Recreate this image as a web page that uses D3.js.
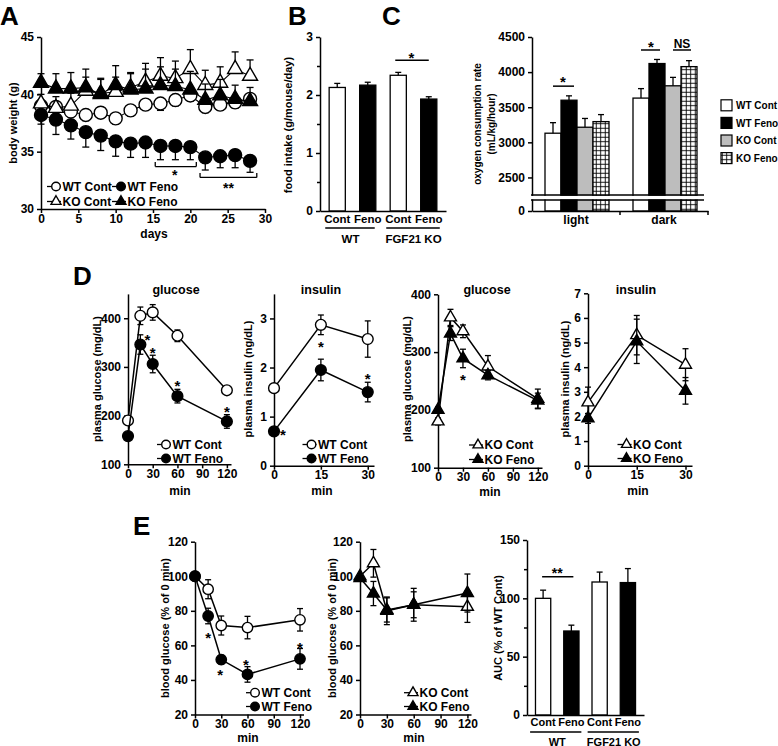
<!DOCTYPE html>
<html>
<head>
<meta charset="utf-8">
<script src="https://cdn.jsdelivr.net/npm/d3@7"></script>
<style>
  body { margin: 0; background: #fff; }
</style>
</head>
<body>
<svg id="fig" width="778" height="746"></svg>
<script>
// ---- A: body weight (g) ----
const daysA = [0, 2, 4, 6, 8, 10, 12, 14, 16, 18, 20, 22, 24, 26, 28];
const wtContA = [39.0, 38.9, 38.5, 38.2, 38.4, 37.9, 38.6, 39.1, 39.2, 39.5, 39.9, 38.9, 39.1, 39.3, 39.6];
const wtContAErr = [0.4, 0.5, 0.5, 0.5, 0.5, 0.5, 0.5, 0.5, 0.6, 0.5, 0.5, 0.5, 0.5, 0.5, 0.5];
const wtFenoA = [38.2, 37.8, 37.3, 36.7, 36.4, 35.9, 35.7, 35.8, 35.5, 35.5, 35.4, 34.5, 34.6, 34.7, 34.2];
const wtFenoAErr = [0.8, 1.3, 1.2, 1.3, 1.3, 1.3, 1.2, 1.3, 1.2, 1.2, 1.1, 1.1, 1.0, 1.1, 1.0];
const koContA = [39.2, 38.8, 39.0, 40.3, 40.1, 40.2, 40.6, 41.1, 41.6, 41.4, 42.2, 40.8, 41.0, 42.2, 41.6];
const koContAErr = [0.8, 1.0, 1.1, 1.2, 1.2, 1.3, 1.2, 1.6, 1.6, 1.5, 1.7, 1.3, 1.4, 1.5, 1.4];
const koFenoA = [41.0, 40.5, 40.5, 40.6, 40.0, 40.8, 40.4, 40.5, 40.8, 40.7, 40.4, 39.5, 39.9, 39.6, 39.4];
const koFenoAErr = [0.8, 1.3, 1.4, 1.6, 1.4, 1.7, 1.5, 1.7, 1.6, 1.5, 1.6, 1.4, 1.4, 1.2, 1.2];

// ---- B: food intake ----
const intakeLabels = ["Cont", "Feno", "Cont", "Feno"];
const intakeVals = [2.13, 2.17, 2.34, 1.93];
const intakeErr = [0.07, 0.05, 0.05, 0.04];

// ---- C: oxygen consumption ----
const o2Periods = ["light", "dark"];
const o2Groups = ["WT Cont", "WT Feno", "KO Cont", "KO Feno"];
const o2Light = [3130, 3600, 3215, 3295];
const o2LightErr = [150, 62, 125, 100];
const o2Dark = [3630, 4122, 3805, 4078];
const o2DarkErr = [135, 58, 120, 85];

// ---- D: GTT plasma glucose / insulin ----
const minGlu = [0, 15, 30, 60, 120];
const wtContGlu = [190, 405, 412, 364, 252];
const wtContGluErr = [8, 18, 16, 12, 5];
const wtFenoGlu = [158, 346, 306, 240, 188];
const wtFenoGluErr = [6, 20, 18, 14, 14];
const koContGlu = [180, 360, 336, 275, 219];
const koContGluErr = [6, 14, 11, 19, 17];
const koFenoGlu = [200, 332, 289, 260, 216];
const koFenoGluErr = [5, 12, 16, 8, 13];

const minIns = [0, 15, 30];
const wtContIns = [1.58, 2.87, 2.58];
const wtContInsErr = [0.05, 0.2, 0.37];
const wtFenoIns = [0.7, 1.95, 1.5];
const wtFenoInsErr = [0.05, 0.22, 0.2];
const koContIns = [2.57, 5.3, 4.1];
const koContInsErr = [0.62, 0.8, 0.65];
const koFenoIns = [1.92, 5.05, 3.04];
const koFenoInsErr = [0.2, 0.9, 0.54];

// ---- E: ITT blood glucose (% of 0 min) and AUC ----
const minItt = [0, 15, 30, 60, 120];
const wtContItt = [100, 92.5, 71.5, 70.3, 74.8];
const wtContIttErr = [0, 5.5, 5.5, 6.5, 6.5];
const wtFenoItt = [100, 77, 51.8, 43.2, 52.2];
const wtFenoIttErr = [0, 4.5, 2.5, 4.5, 6];
const koContItt = [100, 107.5, 80, 83.5, 82.3];
const koContIttErr = [0, 8, 8, 9.5, 9];
const koFenoItt = [99, 90, 80.5, 83.5, 90.3];
const koFenoIttErr = [0, 7, 7, 7.5, 11];

const aucLabels = ["Cont", "Feno", "Cont", "Feno"];
const aucVals = [100, 72, 114, 113.5];
const aucErr = [7, 5, 8.5, 12];

// ---------------------------------------------------------------
const FONT = '"Liberation Sans", Arial, sans-serif';
const svg = d3.select("#fig");
svg.append("rect").attr("width", 778).attr("height", 746).attr("fill", "#fff");

const pat = svg.append("defs").append("pattern").attr("id", "grid")
  .attr("patternUnits", "userSpaceOnUse").attr("width", 4.5).attr("height", 4.5);
pat.append("rect").attr("width", 4.5).attr("height", 4.5).attr("fill", "#fff");
pat.append("path").attr("d", "M0,2.2H4.5M2.2,0V4.5").attr("stroke", "#000").attr("stroke-width", 0.9);

function txt(x, y, s, size = 12, anchor = "middle") {
  return svg.append("text").attr("x", x).attr("y", y)
    .attr("font-family", FONT).attr("font-weight", "bold").attr("font-size", size)
    .attr("text-anchor", anchor).attr("fill", "#000").text(s);
}
function vtitle(x, yc, s, size = 11) {
  txt(x, yc, s, size).attr("dy", "0.35em").attr("transform", `rotate(-90,${x},${yc})`);
}
function star(x, yc, s = "*", size = 15) {
  txt(x, yc + size * 0.55, s, size);
}
function line(x1, y1, x2, y2, w = 1.5) {
  svg.append("line").attr("x1", x1).attr("y1", y1).attr("x2", x2).attr("y2", y2)
    .attr("stroke", "#000").attr("stroke-width", w);
}
function styleAxis(a, size = 12) {
  a.attr("font-family", FONT).attr("font-size", size).attr("font-weight", "bold");
  a.selectAll("path,line").attr("stroke", "#000").attr("stroke-width", 1.5);
  a.selectAll("text").attr("fill", "#000");
  return a;
}
const plain = d => String(d);
function leftAxis(y, x0, ticks, minor) {
  styleAxis(svg.append("g").attr("transform", `translate(${x0},0)`)
    .call(d3.axisLeft(y).tickValues(ticks).tickFormat(plain).tickSize(4).tickSizeOuter(0).tickPadding(3)));
  if (minor) {
    const m = svg.append("g").attr("transform", `translate(${x0},0)`)
      .call(d3.axisLeft(y).tickValues(minor).tickSize(3).tickFormat(""));
    m.select(".domain").remove();
    styleAxis(m);
  }
}
function bottomAxis(x, y0, ticks) {
  styleAxis(svg.append("g").attr("transform", `translate(0,${y0})`)
    .call(d3.axisBottom(x).tickValues(ticks).tickFormat(plain).tickSize(4).tickSizeOuter(0).tickPadding(1)));
}

function marker(g, cx, cy, shape, filled, size) {
  if (shape === "circle") {
    g.append("circle").attr("cx", cx).attr("cy", cy).attr("r", size)
      .attr("fill", filled ? "#000" : "#fff").attr("stroke", "#000").attr("stroke-width", 1.4);
  } else {
    // size = triangle side
    const area = Math.sqrt(3) / 4 * size * size;
    g.append("path").attr("d", d3.symbol(d3.symbolTriangle, area)())
      .attr("transform", `translate(${cx},${cy})`)
      .attr("fill", filled ? "#000" : "#fff").attr("stroke", "#000").attr("stroke-width", 1.4);
  }
}

function drawSeries(g, x, y, s, st) {
  const pts = s.xs.map((v, i) => ({
    x: x(v), y: y(s.ys[i]), e: s.err[i],
    hi: y(s.ys[i] + s.err[i]), lo: y(s.ys[i] - s.err[i])
  }));
  g.append("path").attr("d", d3.line().x(d => d.x).y(d => d.y)(pts))
    .attr("fill", "none").attr("stroke", "#000").attr("stroke-width", st.lw);
  pts.forEach(p => {
    if (!p.e) return;
    const top = s.dir === "down" ? p.y : p.hi;
    const bot = s.dir === "up" ? p.y : p.lo;
    const eb = g.append("g").attr("stroke", "#000").attr("stroke-width", 1.3);
    eb.append("line").attr("x1", p.x).attr("x2", p.x).attr("y1", top).attr("y2", bot);
    if (s.dir !== "down") eb.append("line").attr("x1", p.x - st.cap).attr("x2", p.x + st.cap).attr("y1", top).attr("y2", top);
    if (s.dir !== "up") eb.append("line").attr("x1", p.x - st.cap).attr("x2", p.x + st.cap).attr("y1", bot).attr("y2", bot);
  });
  pts.forEach(p => marker(g, p.x, p.y, s.shape, s.filled, s.shape === "circle" ? st.r : st.tri));
}

function legendItem(cx, cy, shape, filled, label) {
  line(cx - 9, cy, cx + 5, cy, 1.3);
  marker(svg, cx, cy, shape, filled, shape === "circle" ? 4.3 : 10);
  txt(cx + 6.5, cy + 4.3, label, 12, "start");
}

function linePanel(p) {
  const x = d3.scaleLinear().domain(p.xDomain).range(p.xRange);
  const y = d3.scaleLinear().domain(p.yDomain).range(p.yRange);
  bottomAxis(x, p.yRange[0], p.xTicks);
  leftAxis(y, p.xRange[0], p.yTicks);
  const g = svg.append("g");
  p.series.forEach(s => drawSeries(g, x, y, s, p.style));
  return { x, y };
}

function barErr(cx, yTop, yEnd, half) {
  line(cx, yTop, cx, yEnd, 1.3);
  line(cx - half, yEnd, cx + half, yEnd, 1.3);
}

// ================= A =================
const stA = { r: 6.5, tri: 15, cap: 3.5, lw: 1.1 };
const A = linePanel({
  xDomain: [0, 30], xRange: [41, 265], yDomain: [30, 45], yRange: [209, 37],
  xTicks: d3.range(0, 31, 5), yTicks: [30, 35, 40, 45], style: stA,
  series: [
    { xs: daysA, ys: wtContA, err: wtContAErr, dir: "down", shape: "circle", filled: false },
    { xs: daysA, ys: wtFenoA, err: wtFenoAErr, dir: "down", shape: "circle", filled: true },
    { xs: daysA, ys: koContA, err: koContAErr, dir: "up", shape: "tri", filled: false },
    { xs: daysA, ys: koFenoA, err: koFenoAErr, dir: "up", shape: "tri", filled: true }
  ]
});
function bracket(x1, x2, yy, up) {
  line(x1, yy, x2, yy, 1.3); line(x1, yy, x1, yy - up, 1.3); line(x2, yy, x2, yy - up, 1.3);
}
bracket(A.x(15.3), A.x(20.8), A.y(33.7), 4.5);
star(A.x(17.9), A.y(33.2), "*", 14);
bracket(A.x(21.3), A.x(28.9), A.y(32.75), 4.5);
star(A.x(25.1), A.y(32.05), "**", 14);
legendItem(56, 186.5, "circle", false, "WT Cont");
legendItem(121, 186.5, "circle", true, "WT Feno");
legendItem(56, 201.5, "tri", false, "KO Cont");
legendItem(121, 201.5, "tri", true, "KO Feno");
vtitle(13, 123, "body weight (g)");
txt(154, 238, "days");
txt(0, 25, "A", 26, "start");

// ================= B =================
const xB = d3.scaleBand().domain(d3.range(4)).range([320, 446]).paddingInner(0.47).paddingOuter(0.3);
const yB = d3.scaleLinear().domain([0, 3]).range([211, 37]);
leftAxis(yB, 320, [0, 1, 2, 3], [0.5, 1.5, 2.5]);
const fillsB = ["#fff", "#000", "#fff", "#000"];
intakeVals.forEach((v, i) => {
  svg.append("rect").attr("x", xB(i)).attr("y", yB(v)).attr("width", xB.bandwidth())
    .attr("height", yB(0) - yB(v)).attr("fill", fillsB[i]).attr("stroke", "#000").attr("stroke-width", 1.3);
  barErr(xB(i) + xB.bandwidth() / 2, yB(v), yB(v + intakeErr[i]), 3);
});
styleAxis(svg.append("g").attr("transform", "translate(0,211)")
  .call(d3.axisBottom(xB).tickSize(0).tickSizeOuter(0).tickPadding(4).tickFormat(i => intakeLabels[i])), 11.5);
const cB = i => xB(i) + xB.bandwidth() / 2;
line(cB(0) - 12, 228, cB(1) + 7, 228, 1.6);
line(cB(2) - 12, 228, cB(3) + 11, 228, 1.6);
txt((cB(0) + cB(1)) / 2 - 2, 243, "WT", 11.5);
txt((cB(2) + cB(3)) / 2, 243, "FGF21 KO", 11.5);
line(cB(2) - 3, yB(2.6), cB(3), yB(2.6), 1.5);
star((cB(2) + cB(3)) / 2 - 2, yB(2.7));
vtitle(288, 125, "food intake (g/mouse/day)");
txt(288, 25, "B", 26, "start");

// ================= C =================
const xC = d3.scaleBand().domain(o2Periods).range([532, 708]);
const xC2 = d3.scaleBand().domain(o2Groups).range([13, 77]);
const yC = d3.scaleLinear().domain([0, 2250, 4500]).range([211, 195, 37]);
leftAxis(yC, 532, [0, 2500, 3000, 3500, 4000, 4500]);
const fillsC = ["#fff", "#000", "#bdbdbd", "url(#grid)"];
const o2Vals = { light: o2Light, dark: o2Dark };
const o2Errs = { light: o2LightErr, dark: o2DarkErr };
const cC = (p, gname) => xC(p) + xC2(gname) + xC2.bandwidth() / 2;
o2Periods.forEach(p => {
  o2Groups.forEach((gname, i) => {
    const v = o2Vals[p][i];
    svg.append("rect").attr("x", xC(p) + xC2(gname)).attr("y", yC(v))
      .attr("width", xC2.bandwidth()).attr("height", yC(0) - yC(v))
      .attr("fill", fillsC[i]).attr("stroke", "#000").attr("stroke-width", 1.3);
    barErr(cC(p, gname), yC(v), yC(v + o2Errs[p][i]), 3);
  });
});
// axis break
svg.append("rect").attr("x", 531).attr("y", yC(2250) + 0.8).attr("width", 173).attr("height", 3.6).attr("fill", "#fff");
line(531, yC(2250), 704, yC(2250), 1.5);
line(531, yC(2250) + 5, 704, yC(2250) + 5, 1.5);
styleAxis(svg.append("g").attr("transform", "translate(0,211)")
  .call(d3.axisBottom(xC).tickSize(0).tickSizeOuter(0).tickPadding(4)));
line(xC("dark"), 211, xC("dark"), 215);
line(xC.range()[1], 211, xC.range()[1], 215);
line(cC("light", "WT Cont"), yC(3800), cC("light", "WT Feno") + 5, yC(3800));
star((cC("light", "WT Cont") + cC("light", "WT Feno")) / 2 + 2, yC(3900));
line(cC("dark", "WT Cont"), yC(4315), cC("dark", "WT Feno") + 3, yC(4315));
star((cC("dark", "WT Cont") + cC("dark", "WT Feno")) / 2 + 2, yC(4410));
line(cC("dark", "KO Cont"), yC(4315), cC("dark", "KO Feno") + 2, yC(4315));
txt((cC("dark", "KO Cont") + cC("dark", "KO Feno")) / 2 + 1, yC(4410) + 4.5, "NS", 12);
vtitle(477, 124, "oxygen consumption rate", 10);
vtitle(491, 124, "(mL/kg/hour)", 10);
o2Groups.forEach((gname, i) => {
  const cy = 105.3 + i * 17.6;
  svg.append("rect").attr("x", 721).attr("y", cy - 5.5).attr("width", 11).attr("height", 11)
    .attr("fill", fillsC[i]).attr("stroke", "#000").attr("stroke-width", 1.2);
  txt(736, cy + 3.6, gname, 10, "start");
});
txt(382, 25, "C", 26, "start");

// ================= D =================
const stD = { r: 5.4, tri: 12, cap: 3, lw: 1.5 };
const D1 = linePanel({
  xDomain: [0, 125], xRange: [128, 231], yDomain: [100, 450], yRange: [464.3, 293.9],
  xTicks: [0, 30, 60, 90, 120], yTicks: [100, 200, 300, 400], style: stD,
  series: [
    { xs: minGlu, ys: wtContGlu, err: wtContGluErr, dir: "both", shape: "circle", filled: false },
    { xs: minGlu, ys: wtFenoGlu, err: wtFenoGluErr, dir: "both", shape: "circle", filled: true }
  ]
});
star(D1.x(15) + 7, D1.y(346) - 8);
star(D1.x(30), D1.y(306) - 14);
star(D1.x(60), D1.y(240) - 13);
star(D1.x(120), D1.y(188) - 13);
legendItem(166, 444.5, "circle", false, "WT Cont");
legendItem(166, 458.5, "circle", true, "WT Feno");
vtitle(97, 379, "plasma glucose (mg/dL)");
txt(176, 294, "glucose", 12.5);
txt(180, 495, "min");

const D2 = linePanel({
  xDomain: [0, 32], xRange: [274, 374], yDomain: [0, 3.5], yRange: [465.7, 293.9],
  xTicks: [0, 15, 30], yTicks: [0, 1, 2, 3], style: stD,
  series: [
    { xs: minIns, ys: wtContIns, err: wtContInsErr, dir: "both", shape: "circle", filled: false },
    { xs: minIns, ys: wtFenoIns, err: wtFenoInsErr, dir: "both", shape: "circle", filled: true }
  ]
});
star(D2.x(0) + 9, D2.y(0.7));
star(D2.x(15), D2.y(1.95) - 26);
star(D2.x(30), D2.y(1.5) - 16);
legendItem(311.5, 444.5, "circle", false, "WT Cont");
legendItem(311.5, 458.5, "circle", true, "WT Feno");
vtitle(248, 379, "plasma insulin (ng/dL)");
txt(321, 294, "insulin", 12.5);
txt(322, 495, "min");

const D3 = linePanel({
  xDomain: [0, 125], xRange: [438, 542], yDomain: [100, 400], yRange: [467.7, 294.3],
  xTicks: [0, 30, 60, 90, 120], yTicks: [100, 200, 300, 400], style: stD,
  series: [
    { xs: minGlu, ys: koContGlu, err: koContGluErr, dir: "both", shape: "tri", filled: false },
    { xs: minGlu, ys: koFenoGlu, err: koFenoGluErr, dir: "both", shape: "tri", filled: true }
  ]
});
star(D3.x(30), D3.y(289) + 18);
legendItem(478, 445, "tri", false, "KO Cont");
legendItem(478, 459.5, "tri", true, "KO Feno");
vtitle(407, 379, "plasma glucose (mg/dL)");
txt(487, 294, "glucose", 12.5);
txt(490, 496, "min");

const D4 = linePanel({
  xDomain: [0, 32], xRange: [588, 692], yDomain: [0, 7], yRange: [465.7, 293.3],
  xTicks: [0, 15, 30], yTicks: [0, 1, 2, 3, 4, 5, 6, 7], style: stD,
  series: [
    { xs: minIns, ys: koContIns, err: koContInsErr, dir: "both", shape: "tri", filled: false },
    { xs: minIns, ys: koFenoIns, err: koFenoInsErr, dir: "both", shape: "tri", filled: true }
  ]
});
legendItem(626.5, 444.5, "tri", false, "KO Cont");
legendItem(626.5, 458.5, "tri", true, "KO Feno");
vtitle(565, 379, "plasma insulin (ng/dL)");
txt(636, 294, "insulin", 12.5);
txt(638, 495, "min");
txt(73, 285, "D", 26, "start");

// ================= E =================
const stE = { r: 5.2, tri: 12, cap: 3, lw: 1.5 };
const E1 = linePanel({
  xDomain: [0, 124], xRange: [195, 303.5], yDomain: [20, 120], yRange: [714.5, 541.7],
  xTicks: [0, 30, 60, 90, 120], yTicks: [20, 40, 60, 80, 100, 120], style: stE,
  series: [
    { xs: minItt, ys: wtContItt, err: wtContIttErr, dir: "both", shape: "circle", filled: false },
    { xs: minItt, ys: wtFenoItt, err: wtFenoIttErr, dir: "both", shape: "circle", filled: true }
  ]
});
star(E1.x(15), E1.y(77) + 19);
star(E1.x(30) - 1, E1.y(51.8) + 12);
star(E1.x(60) - 1.5, E1.y(43.2) - 13);
star(E1.x(120), E1.y(52.2) - 14);
legendItem(255, 692.7, "circle", false, "WT Cont");
legendItem(255, 706.5, "circle", true, "WT Feno");
vtitle(165, 628, "blood glucose (% of 0 min)");
txt(248, 742, "min");

const E2 = linePanel({
  xDomain: [0, 124], xRange: [360, 471], yDomain: [20, 120], yRange: [714.5, 541.7],
  xTicks: [0, 30, 60, 90, 120], yTicks: [20, 40, 60, 80, 100, 120], style: stE,
  series: [
    { xs: minItt, ys: koContItt, err: koContIttErr, dir: "both", shape: "tri", filled: false },
    { xs: minItt, ys: koFenoItt, err: koFenoIttErr, dir: "both", shape: "tri", filled: true }
  ]
});
legendItem(413, 692.7, "tri", false, "KO Cont");
legendItem(413, 706.5, "tri", true, "KO Feno");
vtitle(332, 628, "blood glucose (% of 0 min)");
txt(414, 742, "min");

const xE = d3.scaleBand().domain(d3.range(4)).range([527, 644]).paddingInner(0.46).paddingOuter(0.3);
const yE = d3.scaleLinear().domain([0, 150]).range([715, 540]);
leftAxis(yE, 527, [0, 50, 100, 150], [25, 75, 125]);
aucVals.forEach((v, i) => {
  svg.append("rect").attr("x", xE(i)).attr("y", yE(v)).attr("width", xE.bandwidth())
    .attr("height", yE(0) - yE(v)).attr("fill", fillsB[i]).attr("stroke", "#000").attr("stroke-width", 1.3);
  barErr(xE(i) + xE.bandwidth() / 2, yE(v), yE(v + aucErr[i]), 3);
});
styleAxis(svg.append("g").attr("transform", "translate(0,715)")
  .call(d3.axisBottom(xE).tickSize(0).tickSizeOuter(0).tickPadding(3).tickFormat(i => aucLabels[i])), 11);
const cE = i => xE(i) + xE.bandwidth() / 2;
line(cE(0) - 13, 732, cE(1) + 10, 732, 1.6);
line(cE(2) - 12, 732, cE(3) + 11, 732, 1.6);
txt((cE(0) + cE(1)) / 2, 745.5, "WT", 11);
txt((cE(2) + cE(3)) / 2, 745.5, "FGF21 KO", 11);
line(cE(0) - 1, yE(118.5), cE(1) + 2, yE(118.5));
star((cE(0) + cE(1)) / 2, yE(124), "**", 14);
vtitle(498, 628, "AUC (% of WT Cont)");
txt(133, 535, "E", 26, "start");
</script>
</body>
</html>
